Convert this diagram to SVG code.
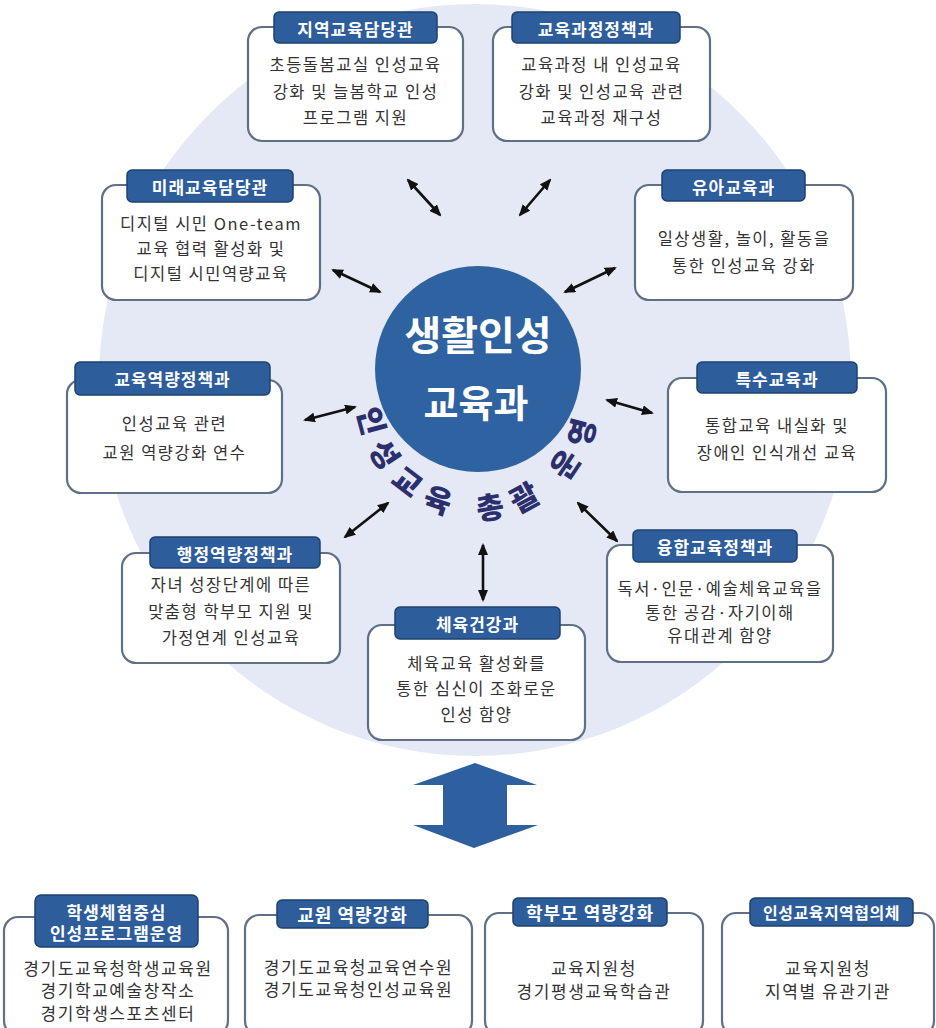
<svg xmlns="http://www.w3.org/2000/svg" width="936" height="1028" viewBox="0 0 936 1028">
<defs>
<style>
.box{fill:#ffffff;stroke:#5f6f86;stroke-width:2.2}
.tab{fill:#2d5d9b;stroke:#1e426f;stroke-width:1.5}
.tt{font-family:"Noto Sans CJK KR","Noto Sans",sans-serif;font-weight:700;fill:#ffffff;font-size:17px;text-anchor:middle;dominant-baseline:central;letter-spacing:1px}
.bt{font-family:"Noto Sans CJK KR","Noto Sans",sans-serif;font-size:16.5px;fill:#333333;text-anchor:middle;dominant-baseline:central;letter-spacing:1.5px}
.bb{font-family:"Noto Sans CJK KR","Noto Sans",sans-serif;font-size:17px;fill:#333333;text-anchor:middle;dominant-baseline:central;letter-spacing:1.6px}
.arr{stroke:#111111;stroke-width:2.6;fill:none;marker-start:url(#ah);marker-end:url(#ah)}
</style>
<marker id="ah" markerUnits="userSpaceOnUse" markerWidth="12" markerHeight="10" refX="10" refY="5" orient="auto-start-reverse">
<path d="M0,0 L12,5 L0,10 Z" fill="#111111"/>
</marker>
<path id="arcText" d="M 358 399 A 120 120 0 0 0 598 399"/>
</defs>

<rect width="936" height="1028" fill="#ffffff"/>
<circle cx="475" cy="380" r="376" fill="#e4e9f5"/>

<g id="center">
<circle cx="478" cy="369" r="103" fill="#2f62a1"/>
<text x="478" y="333" font-family="Noto Sans CJK KR, sans-serif" font-weight="700" font-size="40" fill="#ffffff" text-anchor="middle" dominant-baseline="central">생활인성</text>
<text x="476" y="400" font-family="Noto Sans CJK KR, sans-serif" font-weight="700" font-size="38" fill="#ffffff" text-anchor="middle" dominant-baseline="central">교육과</text>
<text font-family="Noto Sans CJK KR, sans-serif" font-weight="900" font-size="30" fill="#2b2f6e" letter-spacing="12"><textPath href="#arcText" startOffset="50%" text-anchor="middle">인성교육 총괄 운영</textPath></text>
</g>

<g id="connectors">
<line class="arr" x1="408" y1="180" x2="440" y2="215"/>
<line class="arr" x1="550" y1="180" x2="520" y2="215"/>
<line class="arr" x1="333" y1="270" x2="380" y2="292"/>
<line class="arr" x1="615" y1="268" x2="565" y2="292"/>
<line class="arr" x1="305" y1="420" x2="355" y2="407"/>
<line class="arr" x1="607" y1="400" x2="652" y2="413"/>
<line class="arr" x1="345" y1="537" x2="388" y2="503"/>
<line class="arr" x1="483" y1="545" x2="483" y2="600"/>
<line class="arr" x1="578" y1="503" x2="617" y2="541"/>
</g>

<g id="n-jiyeok">
<rect class="box" x="248" y="27" width="215" height="114" rx="14"/>
<rect class="tab" x="274" y="12" width="163" height="31" rx="5"/>
<text class="tt" x="355.5" y="28">지역교육담당관</text>
<text class="bt" x="355.5" y="64">초등돌봄교실 인성교육</text>
<text class="bt" x="355.5" y="91">강화 및 늘봄학교 인성</text>
<text class="bt" x="355.5" y="117">프로그램 지원</text>
</g>

<g id="n-gyoyukgwajeong">
<rect class="box" x="493" y="27" width="217" height="114" rx="14"/>
<rect class="tab" x="512" y="12" width="168" height="31" rx="5"/>
<text class="tt" x="596" y="28">교육과정정책과</text>
<text class="bt" x="601.5" y="64">교육과정 내 인성교육</text>
<text class="bt" x="601.5" y="91">강화 및 인성교육 관련</text>
<text class="bt" x="601.5" y="117">교육과정 재구성</text>
</g>

<g id="n-mirae">
<rect class="box" x="102" y="185" width="218" height="115" rx="14"/>
<rect class="tab" x="127" y="170" width="166" height="32" rx="5"/>
<text class="tt" x="210" y="186">미래교육담당관</text>
<text class="bt" x="211" y="223">디지털 시민 One-team</text>
<text class="bt" x="211" y="248">교육 협력 활성화 및</text>
<text class="bt" x="211" y="273">디지털 시민역량교육</text>
</g>

<g id="n-yua">
<rect class="box" x="635" y="185" width="218" height="115" rx="14"/>
<rect class="tab" x="662" y="170" width="143" height="31" rx="5"/>
<text class="tt" x="733.5" y="186">유아교육과</text>
<text class="bt" x="744" y="238">일상생활, 놀이, 활동을</text>
<text class="bt" x="744" y="265">통한 인성교육 강화</text>
</g>

<g id="n-gyoyukyeokryang">
<rect class="box" x="67" y="380" width="215" height="113" rx="14"/>
<rect class="tab" x="75" y="362" width="195" height="33" rx="5"/>
<text class="tt" x="172.5" y="378.5">교육역량정책과</text>
<text class="bt" x="174.5" y="423">인성교육 관련</text>
<text class="bt" x="174.5" y="452">교원 역량강화 연수</text>
</g>

<g id="n-teuksu">
<rect class="box" x="668" y="378" width="218" height="114" rx="14"/>
<rect class="tab" x="697" y="362" width="160" height="31" rx="5"/>
<text class="tt" x="777" y="378">특수교육과</text>
<text class="bt" x="777" y="425">통합교육 내실화 및</text>
<text class="bt" x="777" y="452">장애인 인식개선 교육</text>
</g>

<g id="n-haengjeong">
<rect class="box" x="122" y="553" width="218" height="110" rx="14"/>
<rect class="tab" x="150" y="537" width="170" height="31" rx="5"/>
<text class="tt" x="235" y="553">행정역량정책과</text>
<text class="bt" x="231" y="584">자녀 성장단계에 따른</text>
<text class="bt" x="231" y="611">맞춤형 학부모 지원 및</text>
<text class="bt" x="231" y="637">가정연계 인성교육</text>
</g>

<g id="n-yunghap">
<rect class="box" x="607" y="545" width="226" height="117" rx="14"/>
<rect class="tab" x="633" y="530" width="164" height="32" rx="5"/>
<text class="tt" x="715" y="546">융합교육정책과</text>
<text class="bt" x="720" y="588">독서·인문·예술체육교육을</text>
<text class="bt" x="720" y="612">통한 공감·자기이해</text>
<text class="bt" x="720" y="635">유대관계 함양</text>
</g>

<g id="n-cheyuk">
<rect class="box" x="368" y="625" width="217" height="115" rx="14"/>
<rect class="tab" x="395" y="607" width="165" height="32" rx="5"/>
<text class="tt" x="477.5" y="623">체육건강과</text>
<text class="bt" x="476.5" y="663">체육교육 활성화를</text>
<text class="bt" x="476.5" y="688">통한 심신이 조화로운</text>
<text class="bt" x="476.5" y="714">인성 함양</text>
</g>

<g id="bigArrow">
<polygon points="475,763 537,785 507,785 507,825 538,825 474,848 413,825 443,825 443,785 413,785" fill="#2e5f9e"/>
</g>

<g id="b-student">
<rect class="box" x="4" y="917" width="224" height="118" rx="14"/>
<rect class="tab" x="35" y="895" width="163" height="52" rx="6"/>
<text class="tt" x="116.5" y="911" style="font-size:17px">학생체험중심</text>
<text class="tt" x="116.5" y="932" style="font-size:17px">인성프로그램운영</text>
<text class="bb" x="118" y="967">경기도교육청학생교육원</text>
<text class="bb" x="118" y="989.5">경기학교예술창작소</text>
<text class="bb" x="118" y="1012">경기학생스포츠센터</text>
</g>

<g id="b-teacher">
<rect class="box" x="245" y="915" width="227" height="120" rx="14"/>
<rect class="tab" x="277" y="900" width="151" height="28" rx="5"/>
<text class="tt" x="352.5" y="914" style="font-size:18px">교원 역량강화</text>
<text class="bb" x="358.5" y="966">경기도교육청교육연수원</text>
<text class="bb" x="358.5" y="988.5">경기도교육청인성교육원</text>
</g>

<g id="b-parent">
<rect class="box" x="485" y="913" width="218" height="122" rx="14"/>
<rect class="tab" x="513" y="898" width="154" height="28" rx="5"/>
<text class="tt" x="590" y="912" style="font-size:18px">학부모 역량강화</text>
<text class="bb" x="594" y="967">교육지원청</text>
<text class="bb" x="594" y="990">경기평생교육학습관</text>
</g>

<g id="b-region">
<rect class="box" x="722" y="913" width="212" height="122" rx="14"/>
<rect class="tab" x="750" y="898" width="163" height="28" rx="5"/>
<text class="tt" x="831.5" y="912" style="font-size:16px;letter-spacing:0.5px">인성교육지역협의체</text>
<text class="bb" x="828" y="967">교육지원청</text>
<text class="bb" x="828" y="990">지역별 유관기관</text>
</g>
</svg>
